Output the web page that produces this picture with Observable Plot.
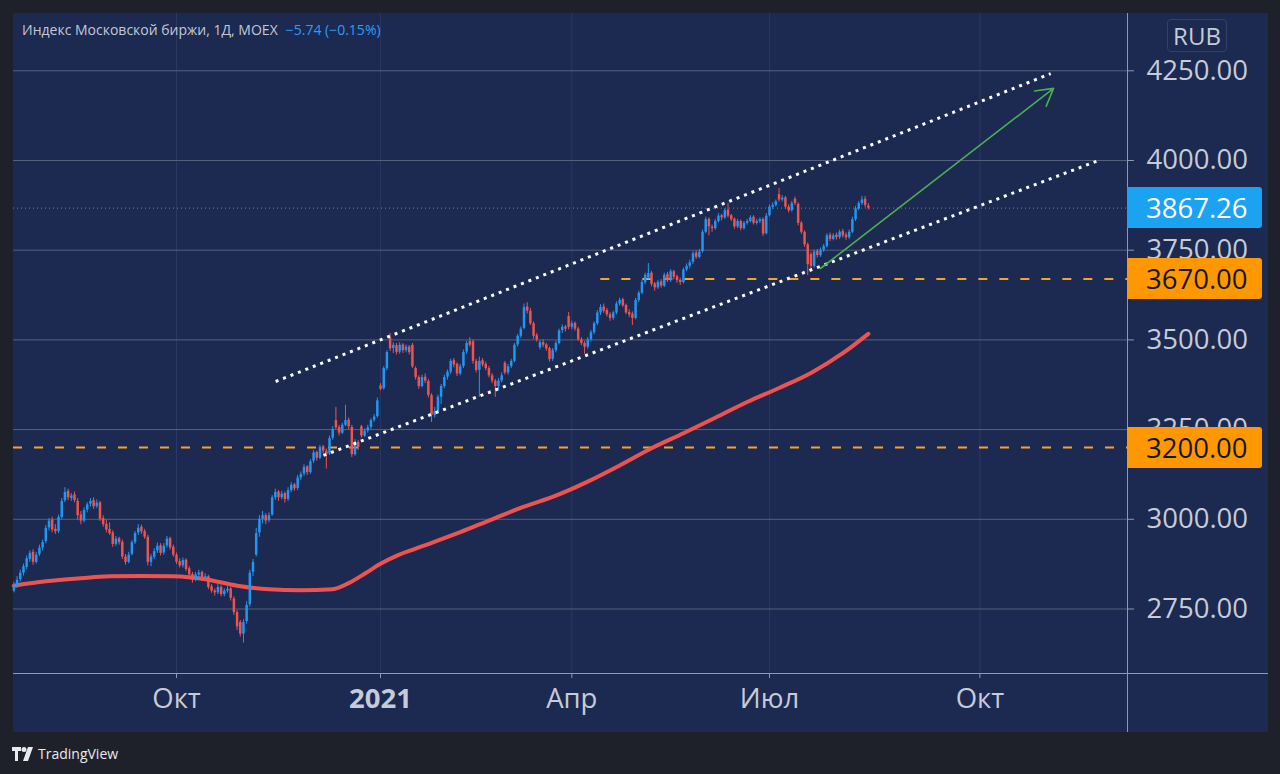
<!DOCTYPE html>
<html><head><meta charset="utf-8">
<script src="https://cdn.jsdelivr.net/npm/d3@7"></script>
<script src="https://cdn.jsdelivr.net/npm/@observablehq/plot@0.6"></script>
<style>
html,body{margin:0;padding:0;background:#1e2129;}
#wrap{position:relative;width:1280px;height:774px;overflow:hidden;font-family:"Open Sans",sans-serif;}
#panel{position:absolute;left:13px;top:13px;width:1255px;height:719px;background:#1c2950;}
#chart{position:absolute;left:0;top:0;}
.hline{position:absolute;height:1px;background:#8f98b0;}
.vline{position:absolute;width:1px;background:#8f98b0;}
.tag{position:absolute;left:1127px;width:135px;height:41px;border-radius:0 3px 3px 0;font-size:27.5px;line-height:41px;box-sizing:border-box;padding-left:19px;}
#hdr{position:absolute;left:22px;top:20px;font-size:14px;color:#c3c8d6;white-space:nowrap;}
#hdr span{color:#2e9ef0;margin-left:8px;}
#rub{position:absolute;left:1167px;top:19px;width:60px;height:33px;border:1px solid #34406a;border-radius:4px;box-sizing:border-box;color:#c5cbd8;font-size:24px;line-height:31px;text-align:center;}
#logo{position:absolute;left:12px;top:744px;color:#e8eaf0;font-size:14px;display:flex;align-items:center;gap:4px;}
</style></head><body>
<div id="wrap">
  <div id="panel"></div>
  <div id="chart"></div>
  <div class="hline" style="left:13px;top:673px;width:1255px;"></div>
  <div class="vline" style="left:1127px;top:13px;height:719px;"></div>
  <div id="hdr">Индекс Московской биржи, 1Д, MOEX<span>−5.74 (−0.15%)</span></div>
  <div id="rub">RUB</div>
  <div id="logo"><svg width="22" height="14" viewBox="0 0 22 14"><path d="M0 0h9v4H6v10H3V4H0z" fill="#e8eaf0"/><circle cx="12" cy="2.5" r="2.5" fill="#e8eaf0"/><path d="M16 0h5l-5 14h-5z" fill="#e8eaf0"/></svg><span>TradingView</span></div>
</div>
<script>
// Daily candles [open, high, low, close], one array per month
const jul2020 = [[2800,2825,2795,2815],[2815,2840,2808,2830],[2832,2858,2825,2850],[2850,2875,2842,2868],[2866,2898,2860,2890],[2888,2912,2880,2905],[2908,2915,2872,2880],[2880,2908,2875,2900]];
const aug2020 = [[2902,2928,2896,2920],[2920,2942,2912,2935],[2938,2982,2932,2975],[2976,3002,2968,2995],[2998,3006,2962,2970],[2972,2985,2958,2965],[2966,3012,2960,3005],[3005,3058,3000,3050],[3052,3088,3046,3075],[3078,3084,3052,3060],[3058,3072,3050,3065],[3068,3076,3046,3052],[3050,3058,2998,3010],[3012,3022,2985,2995],[2995,3032,2990,3025],[3026,3046,3018,3040],[3042,3058,3034,3050],[3052,3060,3028,3035],[3036,3054,3030,3045],[3046,3050,2994,3000],[3002,3010,2978,2985]];
const sep2020 = [[2986,2998,2962,2970],[2972,2990,2955,2960],[2962,2968,2922,2930],[2930,2952,2924,2945],[2946,2950,2928,2935],[2936,2942,2888,2895],[2895,2902,2872,2880],[2880,2908,2876,2900],[2902,2940,2898,2935],[2935,2966,2930,2960],[2962,2985,2955,2975],[2978,2984,2958,2965],[2966,2972,2944,2950],[2950,2956,2870,2880],[2880,2902,2868,2895],[2894,2918,2888,2910],[2912,2934,2905,2925],[2926,2932,2898,2905],[2906,2932,2900,2925],[2926,2952,2920,2945],[2946,2950,2914,2920],[2922,2928,2894,2900]];
const oct2020 = [[2900,2906,2874,2880],[2882,2890,2864,2870],[2870,2892,2864,2885],[2886,2890,2854,2860],[2862,2868,2838,2845],[2846,2852,2822,2830],[2830,2852,2826,2845],[2845,2858,2838,2850],[2852,2856,2828,2835],[2835,2848,2830,2840],[2840,2844,2804,2810],[2812,2818,2794,2800],[2800,2806,2786,2795],[2795,2818,2790,2810],[2810,2815,2784,2790],[2790,2806,2784,2800],[2800,2812,2794,2805],[2806,2810,2772,2780],[2778,2784,2732,2740],[2740,2746,2690,2700],[2712,2718,2672,2680],[2680,2720,2655,2712]];
const nov2020 = [[2715,2770,2708,2760],[2762,2858,2755,2850],[2852,2888,2840,2880],[2900,2975,2895,2960],[2962,3010,2950,3000],[3000,3022,2988,3010],[3010,3016,2985,2995],[2996,3018,2990,3010],[3012,3066,3008,3060],[3060,3084,3052,3075],[3076,3080,3050,3060],[3060,3078,3054,3070],[3072,3076,3045,3055],[3056,3088,3050,3080],[3080,3102,3074,3095],[3096,3100,3078,3085],[3086,3122,3080,3115],[3115,3132,3108,3125],[3126,3152,3120,3145],[3146,3150,3122,3130]];
const dec2020 = [[3130,3166,3125,3160],[3162,3192,3155,3185],[3186,3190,3162,3170],[3170,3206,3166,3200],[3202,3206,3182,3190],[3190,3196,3140,3180],[3182,3232,3178,3225],[3226,3258,3220,3250],[3275,3312,3250,3255],[3256,3262,3232,3240],[3240,3268,3236,3262],[3262,3318,3258,3275],[3276,3282,3250,3258],[3256,3262,3172,3180],[3180,3222,3176,3215],[3214,3220,3192,3200],[3258,3262,3226,3232],[3232,3252,3228,3245],[3246,3262,3240,3255],[3256,3280,3250,3275],[3276,3292,3270,3285],[3286,3338,3282,3330]];
const jan2021 = [[3372,3378,3358,3362],[3364,3425,3360,3420],[3420,3470,3414,3465],[3505,3518,3468,3475],[3476,3492,3462,3485],[3484,3490,3458,3465],[3466,3492,3460,3485],[3486,3490,3462,3470],[3470,3486,3464,3480],[3480,3484,3458,3465],[3485,3490,3420,3425],[3420,3425,3388,3395],[3395,3400,3362,3370],[3370,3402,3366,3395],[3396,3405,3378,3385],[3384,3390,3338,3345],[3345,3350,3270,3290],[3290,3312,3282,3300],[3300,3346,3296,3340]];
const feb2021 = [[3340,3376,3320,3370],[3370,3402,3364,3395],[3396,3416,3388,3410],[3410,3446,3404,3440],[3442,3448,3422,3430],[3432,3436,3398,3405],[3405,3432,3400,3425],[3426,3472,3420,3465],[3466,3496,3460,3490],[3495,3506,3480,3485],[3495,3500,3432,3440],[3440,3446,3408,3415],[3415,3452,3340,3440],[3442,3448,3424,3430],[3432,3438,3414,3420],[3420,3426,3394,3400],[3400,3406,3378,3385],[3385,3390,3340,3370],[3370,3392,3362,3385]];
const mar2021 = [[3386,3408,3380,3400],[3435,3440,3402,3408],[3408,3432,3402,3425],[3426,3446,3420,3440],[3440,3490,3436,3485],[3486,3515,3480,3510],[3510,3536,3504,3530],[3532,3600,3528,3590],[3592,3604,3572,3580],[3580,3588,3540,3545],[3545,3550,3502,3510],[3512,3518,3494,3500],[3478,3498,3472,3492],[3492,3500,3478,3485],[3486,3490,3468,3475],[3476,3480,3438,3445],[3446,3476,3440,3470],[3470,3496,3464,3490],[3490,3530,3486,3525],[3526,3542,3518,3535],[3536,3540,3522,3530],[3565,3576,3528,3535]];
const apr2021 = [[3535,3552,3528,3545],[3546,3550,3524,3530],[3530,3535,3496,3500],[3500,3506,3484,3490],[3490,3496,3460,3480],[3480,3506,3474,3500],[3500,3526,3494,3520],[3520,3550,3514,3545],[3545,3582,3540,3575],[3575,3598,3568,3590],[3592,3600,3574,3580],[3582,3588,3564,3570],[3570,3576,3552,3560],[3560,3580,3554,3575],[3575,3606,3570,3600],[3600,3616,3594,3610],[3612,3616,3590,3595],[3596,3600,3570,3575],[3576,3584,3562,3570],[3572,3578,3540,3560],[3560,3616,3556,3610],[3610,3636,3604,3630]];
const may2021 = [[3630,3666,3626,3660],[3660,3686,3654,3680],[3672,3713,3668,3685],[3686,3690,3648,3655],[3656,3660,3636,3645],[3645,3666,3640,3660],[3662,3668,3644,3650],[3650,3686,3646,3680],[3682,3688,3660,3665],[3665,3696,3660,3690],[3690,3694,3668,3675],[3676,3680,3658,3665],[3666,3672,3652,3660],[3660,3700,3656,3695],[3695,3712,3690,3705],[3705,3722,3698,3715],[3716,3746,3710,3740],[3742,3748,3724,3730],[3730,3752,3726,3745]];
const jun2021 = [[3746,3806,3742,3800],[3800,3842,3796,3835],[3836,3840,3790,3815],[3814,3820,3800,3810],[3810,3836,3806,3830],[3830,3852,3826,3845],[3846,3850,3832,3840],[3840,3866,3836,3860],[3862,3880,3840,3845],[3846,3850,3830,3835],[3836,3840,3808,3815],[3815,3836,3810,3830],[3830,3834,3804,3810],[3810,3830,3806,3825],[3825,3836,3820,3830],[3830,3846,3826,3840],[3842,3846,3820,3825],[3825,3836,3820,3830],[3830,3840,3824,3835],[3836,3840,3788,3795],[3796,3852,3792,3845]];
const jul2021 = [[3846,3876,3842,3870],[3870,3882,3864,3875],[3875,3890,3870,3885],[3905,3922,3884,3890],[3890,3902,3884,3895],[3896,3900,3864,3870],[3870,3876,3854,3860],[3860,3886,3856,3880],[3892,3898,3874,3880],[3878,3882,3818,3825],[3825,3830,3794,3800],[3800,3804,3758,3765],[3765,3770,3679,3710],[3738,3744,3690,3705],[3705,3750,3700,3745],[3746,3752,3728,3735],[3735,3756,3730,3750],[3750,3766,3744,3760],[3760,3796,3756,3790],[3792,3798,3774,3780],[3780,3796,3776,3790],[3792,3798,3778,3785]];
const aug2021 = [[3785,3806,3780,3800],[3802,3808,3784,3790],[3792,3798,3778,3785],[3785,3806,3780,3800],[3800,3842,3796,3835],[3835,3872,3830,3865],[3865,3886,3860,3880],[3880,3900,3874,3890],[3892,3900,3868,3875],[3873,3880,3862,3867.26]];

// 200-day moving average, sampled at bar numbers
const maBar = [0,10,20,30,40,50,60,70,80,90,100,105,110,115,120,125,130,140,150,160,170,180,190,200,210,220,230,240,250,260,268];
const maVal = [2815,2827,2835,2841,2842,2841,2833,2815,2805,2802,2805,2822,2848,2876,2898,2915,2931,2964,3000,3035,3066,3105,3150,3198,3240,3283,3327,3366,3408,3463,3517];

// Axis ticks
const yTicks = [2750,3000,3250,3500,3750,4000,4250];
const xTickBar = [51,115,175,237,303];
const xTickLabel = ["Окт","2021","Апр","Июл","Окт"];

// Drawings (bar number, price)
const channelX1 = [82.1, 97.1];
const channelY1 = [3384, 3178];
const channelX2 = [325.2, 340.2];
const channelY2 = [4242, 4000];
const arrowPts = {x1:253.0, y1:3699, x2:326.1, y2:4201};
const levels = [3670, 3200];
const levelFrom = [184.1, -0.13];
const lastPrice = 3867.26;

const blue = "#2196f3", red = "#ef5350";
const candles = [jul2020,aug2020,sep2020,oct2020,nov2020,dec2020,jan2021,feb2021,mar2021,apr2021,may2021,jun2021,jul2021,aug2021]
  .flat().map((d,i)=>({i, o:d[0], h:d[1], l:d[2], c:d[3], up:d[3]>=d[0]}));
const ma = maBar.map((b,k)=>({b, v:maVal[k]}));
const channels = channelX1.map((x,k)=>({x1:x, y1:channelY1[k], x2:channelX2[k], y2:channelY2[k]}));
const xMax = 349.3, xMin = -0.13;
const levelData = levels.map((v,k)=>({v, from:levelFrom[k], to:xMax}));
const labelOf = new Map(xTickBar.map((b,k)=>[b, xTickLabel[k]]));

const plot = Plot.plot({
  width: 1280, height: 774,
  marginLeft: 13, marginRight: 153, marginTop: 13, marginBottom: 101,
  style: {background:"transparent", color:"#c5cbd8", fontFamily:"'Open Sans', sans-serif", overflow:"visible"},
  x: {type:"linear", domain:[xMin, xMax]},
  y: {domain:[2570.2, 4409.7]},
  marks: [
    Plot.gridX(xTickBar, {stroke:"#2b3862", strokeOpacity:1}),
    Plot.gridY(yTicks, {stroke:"#56627f", strokeOpacity:1}),
    Plot.ruleY(levelData, {y:"v", x1:"from", x2:"to", stroke:"#f5a524", strokeWidth:2, strokeDasharray:"9 12"}),
    Plot.ruleY([lastPrice], {stroke:"#2196f3", strokeWidth:1, strokeDasharray:"1 3"}),
    Plot.line(ma, {x:"b", y:"v", stroke:"#ef5350", strokeWidth:4, curve:"monotone-x"}),
    Plot.ruleX(candles, {x:"i", y1:"l", y2:"h", stroke:d=>d.up?blue:red, strokeWidth:1}),
    Plot.ruleX(candles, {x:"i", y1:"o", y2:"c", stroke:d=>d.up?blue:red, strokeWidth:2.5}),
    Plot.link(channels, {x1:"x1", y1:"y1", x2:"x2", y2:"y2", stroke:"white", strokeWidth:3, strokeDasharray:"3 5"}),
    Plot.arrow([arrowPts], {x1:"x1", y1:"y1", x2:"x2", y2:"y2", stroke:"#4caf50", strokeWidth:1.6, headLength:18, insetStart:0, insetEnd:0}),
    Plot.axisY(yTicks, {anchor:"right", tickFormat:d=>d.toFixed(2), tickSize:6, tickPadding:13, fontSize:27.5, stroke:"#8f98b0", fill:"#c5cbd8"}),
    Plot.axisX(xTickBar.filter(b=>labelOf.get(b)!=="2021"), {anchor:"bottom", tickFormat:d=>labelOf.get(d), tickSize:5, tickPadding:10, fontSize:27.5, stroke:"#8f98b0", fill:"#c5cbd8"}),
    Plot.axisX(xTickBar.filter(b=>labelOf.get(b)==="2021"), {anchor:"bottom", tickFormat:d=>labelOf.get(d), tickSize:5, tickPadding:10, fontSize:27.5, fontWeight:"bold", stroke:"#8f98b0", fill:"#c5cbd8"})
  ]
});
document.getElementById("chart").appendChild(plot);

// Price tags on the right scale, positioned with the plot's y scale
const ys = plot.scale("y");
const wrap = document.getElementById("wrap");
[{v:lastPrice, bg:"#1ba3f2", fg:"#ffffff"}, {v:levels[0], bg:"#ff9800", fg:"#131722"}, {v:levels[1], bg:"#ff9800", fg:"#131722"}].forEach(t=>{
  const el = document.createElement("div");
  el.className = "tag";
  el.style.top = (ys.apply(t.v) - 20.5) + "px";
  el.style.background = t.bg;
  el.style.color = t.fg;
  el.textContent = t.v.toFixed(2);
  wrap.appendChild(el);
});
</script>
</body></html>
